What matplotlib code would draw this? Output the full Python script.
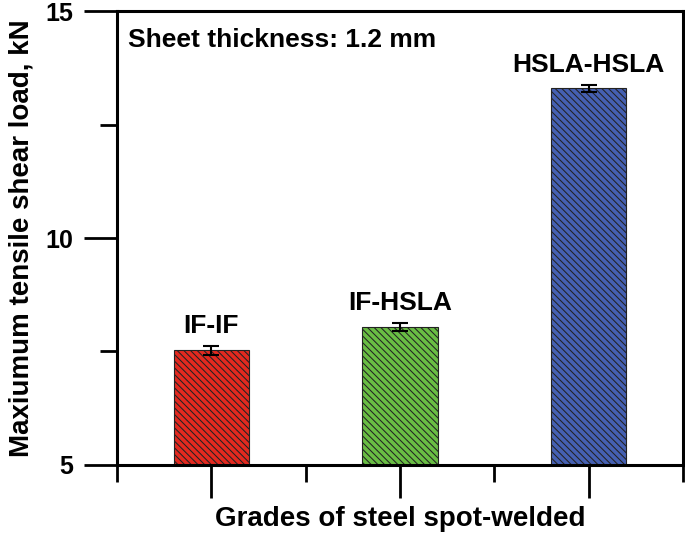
import matplotlib
matplotlib.use('Agg')
import matplotlib.pyplot as plt
from matplotlib.ticker import MultipleLocator, FixedLocator, NullFormatter

# data
grades = ['IF-IF', 'IF-HSLA', 'HSLA-HSLA']
load_kn = [7.53, 8.04, 13.30]
load_err = [0.10, 0.09, 0.08]
bar_colors = ['#e3291f', '#69bd44', '#4560b2']

plt.rcParams['font.family'] = ['Liberation Sans', 'DejaVu Sans']
plt.rcParams['font.weight'] = 'bold'
plt.rcParams['hatch.linewidth'] = 0.75

fig = plt.figure(figsize=(6.85, 5.4), dpi=100)
ax = fig.add_axes([0.1708, 0.1389, 0.8263, 0.8407])

x = [1, 2, 3]
ax.bar(x, load_kn, width=0.4, color=bar_colors, edgecolor='#222222',
       linewidth=0.8, hatch='\\\\\\\\\\', zorder=2)
ax.errorbar(x, load_kn, yerr=load_err, fmt='none', ecolor='black',
            elinewidth=1.5, capsize=5.5, capthick=1.5, zorder=3)

for xi, v, e, name in zip(x, load_kn, load_err, grades):
    ax.annotate(name, (xi, v + e), xytext=(0, 9), textcoords='offset points',
                ha='center', va='baseline', fontsize=19, fontweight='bold')

ax.text(0.019, 0.921, 'Sheet thickness: 1.2 mm', transform=ax.transAxes,
        ha='left', va='baseline', fontsize=19, fontweight='bold')

ax.set_xlim(0.5, 3.5)
ax.set_ylim(5, 15)
ax.yaxis.set_major_locator(MultipleLocator(5))
ax.yaxis.set_minor_locator(MultipleLocator(2.5))
ax.xaxis.set_major_locator(FixedLocator(x))
ax.xaxis.set_minor_locator(FixedLocator([0.5, 1.5, 2.5, 3.5]))
ax.xaxis.set_major_formatter(NullFormatter())

for s in ax.spines.values():
    s.set_linewidth(2.2)
ax.tick_params(which='major', direction='out', length=23.5, width=2.0,
               labelsize=18, pad=8)
ax.tick_params(which='minor', direction='out', length=12, width=2.0)
for lab in ax.get_yticklabels():
    lab.set_fontweight('bold')

ax.set_ylabel('Maxiumum tensile shear load, kN', fontsize=20,
              fontweight='bold', labelpad=8)
ax.set_xlabel('Grades of steel spot-welded', fontsize=20,
              fontweight='bold', va='center')
ax.xaxis.set_label_coords(0.5, -0.118)

fig.savefig('out.png', dpi=100)
